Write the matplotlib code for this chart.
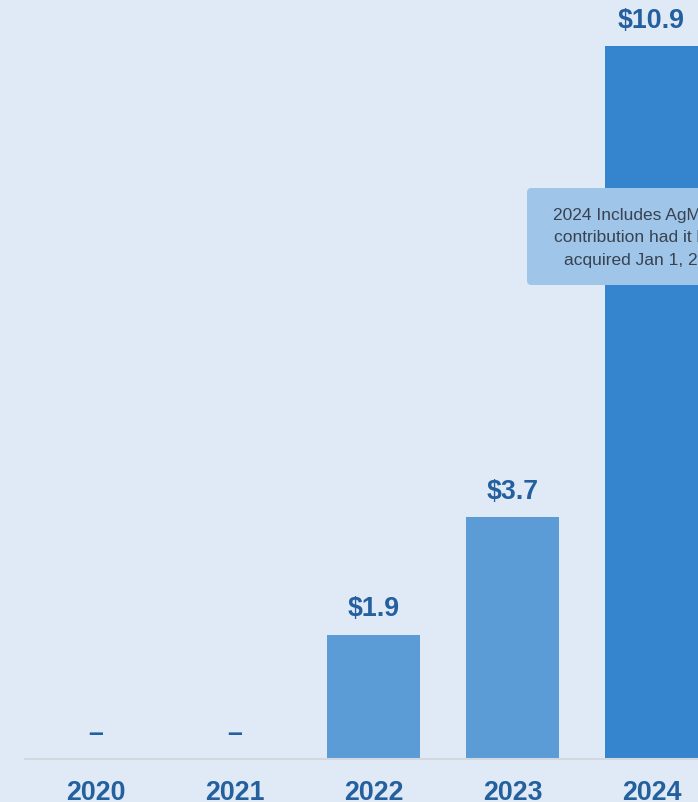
import matplotlib.pyplot as plt
from matplotlib.patches import FancyBboxPatch

years = ["2020", "2021", "2022", "2023", "2024"]
values = [0.0, 0.0, 1.9, 3.7, 10.9]
value_labels = ["–", "–", "$1.9", "$3.7", "$10.9"]
note_text = "2024 Includes AgMark's\ncontribution had it been\nacquired Jan 1, 2024"

BG = "#dfeaf6"
BAR = "#5b9bd6"
BAR_HI = "#3584ce"
LABEL = "#245f9e"
NOTE_BG = "#9fc5e8"
NOTE_TXT = "#384252"

plt.rcParams["font.family"] = ["Liberation Sans", "DejaVu Sans"]

fig = plt.figure(figsize=(6.98, 8.02), dpi=100, facecolor=BG)
ax = fig.add_axes([0, 0, 1, 1])
ax.set_facecolor(BG)

x = list(range(len(years)))
colors = [BAR_HI if y == "2024" else BAR for y in years]
bars = ax.bar(x, values, width=0.67, color=colors, zorder=2)

# value labels above each bar (a dash where there is nothing)
for xi, v, lab in zip(x, values, value_labels):
    off = 8.5 if lab == "–" else 9
    ax.annotate(lab, (xi, v), xytext=(0, off), textcoords="offset points",
                ha="center", va="bottom", fontsize=19.3, fontweight="bold",
                color=LABEL, zorder=4)

# year labels under the baseline
for xi, y in zip(x, years):
    ax.annotate(y, (xi, 0), xytext=(0, -15), textcoords="offset points",
                ha="center", va="top", fontsize=19.3, fontweight="bold",
                color=LABEL)

ax.axhline(0, xmin=25 / 698, xmax=1, color="#d3d8de", lw=1.5, zorder=3)

step = 139
x0 = 95.5
ax.set_xlim(-x0 / step, (698 - x0) / step)
scale = 65.4
ax.set_ylim(-43 / scale, (802 - 43) / scale)
ax.axis("off")

# note box on the 2024 bar
box = FancyBboxPatch((527 / 698, (802 - 285) / 802), 300 / 698, 97 / 802,
                     boxstyle="round,pad=0,rounding_size=0.006",
                     transform=fig.transFigure, facecolor=NOTE_BG,
                     edgecolor="none", zorder=5)
fig.patches.append(box)
fig.text(645 / 698, (802 - 238) / 802, note_text, ha="center", va="center",
         multialignment="center", fontsize=12.5, color=NOTE_TXT,
         linespacing=1.6, zorder=6)

fig.savefig("out.png", dpi=100, facecolor=BG)
